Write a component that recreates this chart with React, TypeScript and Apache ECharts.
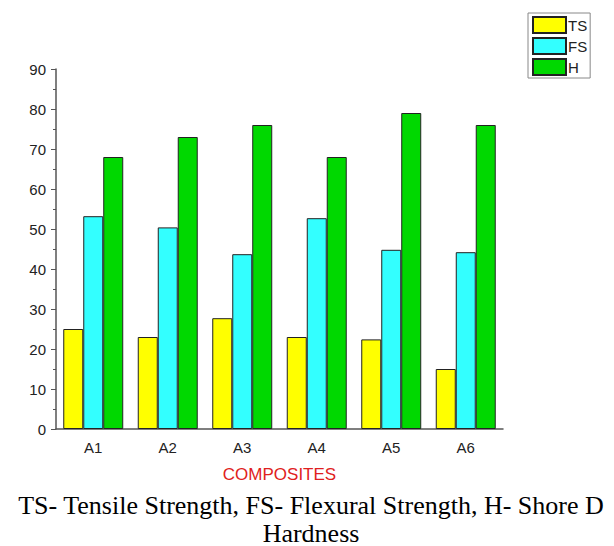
import React, { useEffect, useRef } from "react";
import * as echarts from "echarts";

const categories = ["A1", "A2", "A3", "A4", "A5", "A6"];
const tsValues = [25, 23, 27.7, 23, 22.4, 15];
const fsValues = [53.2, 50.4, 43.7, 52.7, 44.8, 44.2];
const hValues = [68, 73, 76, 68, 79, 76];
const seriesNames = ["TS", "FS", "H"];
const xAxisTitle = "COMPOSITES";
const captionLine1 = "TS- Tensile Strength, FS- Flexural Strength, H- Shore D";
const captionLine2 = "Hardness";

export default function App() {
  const ref = useRef<HTMLDivElement>(null);
  useEffect(() => {
    document.body.style.margin = "0";
    const chart = echarts.init(ref.current!, null, { renderer: "svg" });
    const colors = ["#ffff00", "#33ffff", "#00d800"];
    const data = [tsValues, fsValues, hValues];
    const sans = "Liberation Sans, Arial";
    const serif = "Liberation Serif, Times New Roman";
    chart.setOption({
      animation: false,
      backgroundColor: "#ffffff",
      grid: { left: 56, right: 111, top: 69, bottom: 117 },
      legend: {
        orient: "vertical",
        left: 528,
        top: 13,
        padding: [3, 3, 2, 4],
        itemGap: 3,
        itemWidth: 33,
        itemHeight: 16,
        borderColor: "#888",
        borderWidth: 1,
        backgroundColor: "#fff",
        icon: "rect",
        textStyle: { fontFamily: sans, fontSize: 15, color: "#222", padding: [0, 0, 0, -3] },
        data: seriesNames,
      },
      xAxis: [
        {
          type: "category",
          data: categories,
          axisLine: { lineStyle: { color: "#555", width: 1.5 } },
          axisTick: { alignWithLabel: true, length: 5, lineStyle: { color: "#555" } },
          axisLabel: { fontFamily: sans, fontSize: 15, color: "#222", margin: 11 },
          name: xAxisTitle,
          nameLocation: "middle",
          nameGap: 37,
          nameTextStyle: { fontFamily: sans, fontSize: 17, color: "#e02020" },
        },
        {
          type: "category",
          data: categories,
          position: "bottom",
          axisLine: { show: false },
          axisTick: { inside: true, length: 3, lineStyle: { color: "#555" } },
          axisLabel: { show: false },
        },
      ],
      yAxis: {
        type: "value",
        min: 0,
        max: 90,
        interval: 10,
        axisLine: { show: true, lineStyle: { color: "#555", width: 1.5 } },
        axisTick: { show: true, length: 5, lineStyle: { color: "#555" } },
        minorTick: { show: true, splitNumber: 2, length: 3, lineStyle: { color: "#555" } },
        splitLine: { show: false },
        axisLabel: { fontFamily: sans, fontSize: 15, color: "#222", margin: 10 },
      },
      series: seriesNames.map((name, i) => ({
        name,
        type: "bar",
        data: data[i],
        barGap: "0%",
        barCategoryGap: "19.5%",
        itemStyle: { color: colors[i], borderColor: "#222", borderWidth: 1 },
      })),
      graphic: [
        {
          type: "text",
          x: 311,
          y: 505,
          style: {
            text: captionLine1,
            fontFamily: serif,
            fontSize: 26,
            lineHeight: 24,
            align: "center",
            verticalAlign: "middle",
            fill: "#000",
          },
        },
        {
          type: "text",
          x: 311,
          y: 533,
          style: {
            text: captionLine2,
            fontFamily: serif,
            fontSize: 26,
            lineHeight: 24,
            align: "center",
            verticalAlign: "middle",
            fill: "#000",
          },
        },
      ],
    });
    return () => chart.dispose();
  }, []);
  return <div ref={ref} style={{ width: 614, height: 546 }} />;
}
